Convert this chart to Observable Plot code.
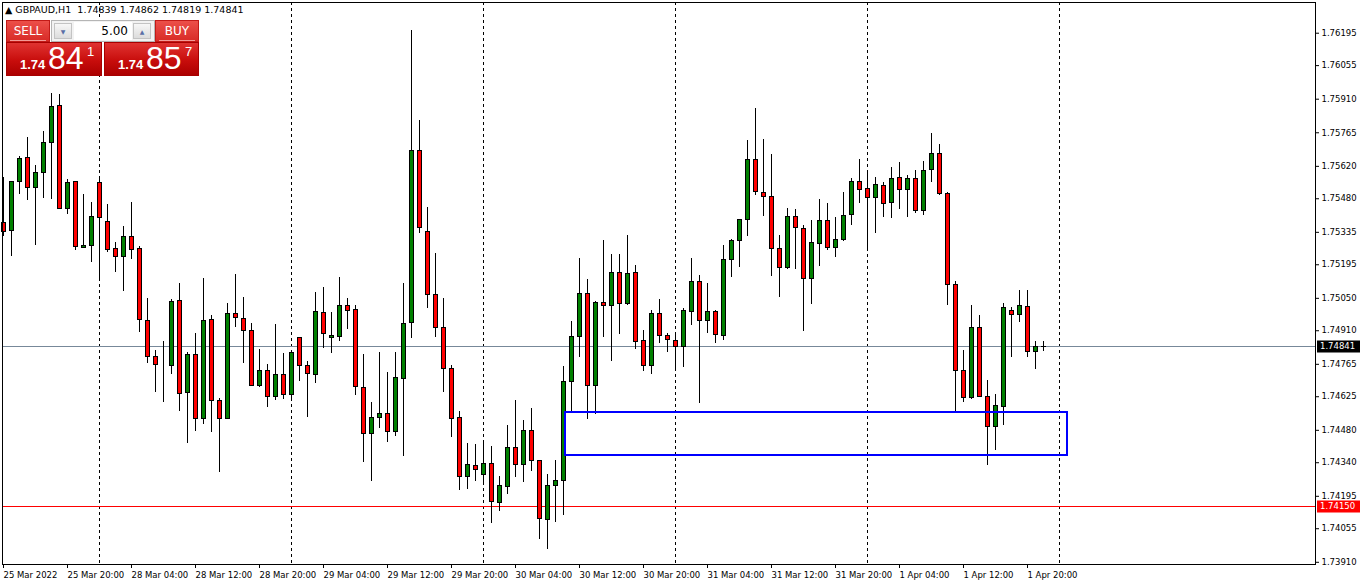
<!DOCTYPE html>
<html>
<head>
<meta charset="utf-8">
<script src="https://cdn.jsdelivr.net/npm/d3@7"></script>
<script src="https://cdn.jsdelivr.net/npm/@observablehq/plot@0.6"></script>
<style>
  body { margin: 0; background: #fff; }
  #wrap { position: relative; width: 1362px; height: 585px; overflow: hidden; font-family: "DejaVu Sans", sans-serif; }
  #title { position: absolute; left: 5px; top: 4px; font-size: 9.5px; color: #000; white-space: pre; }
  .btn { position: absolute; top: 20px; height: 22px; width: 44px; color: #fff; font-size: 12px; line-height: 21px; text-align: center;
         background: linear-gradient(#ec4f49, #d82b27); border: 1px solid #c21a17; box-sizing: border-box; }
  .btn:after { content: ""; position: absolute; left: 3px; right: 3px; bottom: 0; height: 1px; background: #f39a96; }
  #lot { position: absolute; left: 51px; top: 20px; width: 104px; height: 22px; background: #f2f2f2; border: 1px solid #b5b5b5; box-sizing: border-box; }
  .arr { position: absolute; top: 2px; width: 18px; height: 16px; background: linear-gradient(#f7f7f7, #dcdcdc); border: 1px solid #c3c3c3; box-sizing: border-box;
         font-size: 6px; line-height: 15px; text-align: center; color: #5a6fa6; }
  #lotv { position: absolute; left: 22px; top: 1px; width: 58px; height: 18px; background: #fff; font-size: 12px; line-height: 19px; text-align: right; padding-right: 4px; box-sizing: border-box; color: #000; }
  .px { position: absolute; top: 42px; height: 34px; background: linear-gradient(#e03331, #c80d0c 55%, #ac0000); border: 1px solid #a80000; box-sizing: border-box; color: #fff; }
  .px .s { position: absolute; left: 13px; top: 14px; font-family: "Liberation Sans", sans-serif; font-weight: bold; font-size: 13px; }
  .px .b { position: absolute; left: 41px; top: -3px; font-family: "Liberation Sans", sans-serif; font-size: 32px; }
  .px .u { position: absolute; left: 80px; top: 1px; font-family: "Liberation Sans", sans-serif; font-size: 13px; }
</style>
</head>
<body>
<div id="wrap">
  <div id="chart"></div>
  <div id="title"></div>
  <div class="btn" id="sell" style="left:6px">SELL</div>
  <div id="lot"><div class="arr" style="left:2px">&#9660;</div><div id="lotv"></div><div class="arr" style="left:81px">&#9650;</div></div>
  <div class="btn" id="buy" style="left:155px">BUY</div>
  <div class="px" id="sellpx" style="left:6px;width:96px"><span class="s"></span><span class="b"></span><span class="u"></span></div>
  <div class="px" id="buypx" style="left:104px;width:95px"><span class="s"></span><span class="b"></span><span class="u"></span></div>
</div>
<script>
// ---- data (GBPAUD H1, bars from 25 Mar 2022 12:00 to 1 Apr 2022 22:00) ----
const symbol = "GBPAUD,H1";
const lastOHLC = ["1.74839", "1.74862", "1.74819", "1.74841"];
const bidText = ["1.74", "84", "1"];
const askText = ["1.74", "85", "7"];
const lotSize = "5.00";

const opens = [1.75377,1.75340,1.75551,1.75657,1.75527,1.75592,1.75721,1.75881,1.75436,1.75553,
1.75268,1.75277,1.75549,1.75380,1.75264,1.75229,1.75315,1.75264,1.74953,1.74797,
1.74760,1.74758,1.75039,1.74642,1.74806,1.74529,1.74957,1.74607,1.74529,1.74983,
1.74961,1.74909,1.74672,1.74737,1.74624,1.74719,1.74633,1.74879,1.74758,1.74719,
1.74987,1.74879,1.74884,1.75017,1.75000,1.74663,1.74465,1.74534,1.74551,1.74473,
1.74702,1.74944,1.75687,1.75337,1.75065,1.74922,1.74745,1.74534,1.74279,1.74326,
1.74288,1.74335,1.74167,1.74236,1.74404,1.74331,1.74478,1.74348,1.74093,1.74240,
1.74262,1.74689,1.74884,1.75069,1.74672,1.75030,1.75017,1.75160,1.75026,1.75160,
1.74866,1.74758,1.74983,1.74888,1.74866,1.74840,1.74992,1.75121,1.74953,1.74992,
1.74888,1.75216,1.75298,1.75389,1.75648,1.75505,1.75488,1.75264,1.75181,1.75402,
1.75350,1.75134,1.75285,1.75385,1.75268,1.75302,1.75410,1.75553,1.75523,1.75484,
1.75536,1.75462,1.75570,1.75518,1.75566,1.75428,1.75605,1.75674,1.75501,1.75108,
1.74737,1.74620,1.74922,1.74624,1.74495,1.74581,1.74996,1.74979,1.75013,1.74819,
1.74839];

const highs = [1.75572,1.75556,1.75662,1.75743,1.75622,1.75770,1.75934,1.75930,1.75563,1.75556,
1.75498,1.75464,1.75575,1.75454,1.75290,1.75360,1.75464,1.75272,1.75048,1.74823,
1.74862,1.75043,1.75112,1.74814,1.74896,1.75134,1.74978,1.74616,1.75026,1.75151,
1.75053,1.74940,1.74827,1.74763,1.74935,1.74811,1.74823,1.74879,1.74776,1.75074,
1.75095,1.74987,1.75138,1.75048,1.75020,1.74806,1.74599,1.74814,1.74728,1.74814,
1.75112,1.76205,1.75816,1.75441,1.75242,1.75048,1.74758,1.74560,1.74423,1.74417,
1.74434,1.74408,1.74279,1.74499,1.74607,1.74521,1.74573,1.74350,1.74288,1.74348,
1.74754,1.74948,1.75220,1.75130,1.75035,1.75298,1.75238,1.75238,1.75320,1.75190,
1.74909,1.74996,1.75043,1.74896,1.74901,1.75004,1.75220,1.75147,1.75112,1.74996,
1.75277,1.75302,1.75389,1.75730,1.75868,1.75734,1.75670,1.75320,1.75436,1.75432,
1.75363,1.75385,1.75475,1.75458,1.75398,1.75505,1.75566,1.75648,1.75600,1.75570,
1.75549,1.75613,1.75635,1.75579,1.75600,1.75639,1.75762,1.75713,1.75505,1.75121,
1.74823,1.75017,1.74974,1.74694,1.74633,1.75026,1.75009,1.75082,1.75082,1.74862,
1.74862];

const lows = [1.75317,1.75232,1.75499,1.75474,1.75279,1.75482,1.75478,1.75434,1.75413,1.75258,
1.75266,1.75206,1.75125,1.75249,1.75163,1.75081,1.75219,1.74903,1.74769,1.74644,
1.74601,1.74722,1.74562,1.74421,1.74476,1.74503,1.74469,1.74296,1.74525,1.74925,
1.74769,1.74670,1.74663,1.74580,1.74607,1.74611,1.74607,1.74689,1.74534,1.74681,
1.74832,1.74810,1.74862,1.74914,1.74629,1.74342,1.74260,1.74490,1.74426,1.74452,
1.74365,1.74875,1.75328,1.75004,1.74879,1.74642,1.74447,1.74218,1.74223,1.74260,
1.74244,1.74076,1.74128,1.74201,1.74275,1.74253,1.74300,1.74007,1.73964,1.74080,
1.74110,1.74560,1.74793,1.74525,1.74547,1.74879,1.74776,1.74892,1.75017,1.74827,
1.74732,1.74719,1.74853,1.74814,1.74737,1.74750,1.74934,1.74595,1.74896,1.74853,
1.74866,1.75138,1.75181,1.75315,1.75492,1.75402,1.75143,1.75052,1.75173,1.75173,
1.74905,1.75022,1.75186,1.75255,1.75225,1.75294,1.75363,1.75458,1.75255,1.75328,
1.75398,1.75393,1.75432,1.75398,1.75415,1.75406,1.75549,1.75492,1.75017,1.74555,
1.74599,1.74611,1.74620,1.74326,1.74391,1.74499,1.74793,1.74944,1.74793,1.74741,
1.74819];

const closes = [1.75338,1.75554,1.75652,1.75525,1.75592,1.75721,1.75877,1.75436,1.75549,1.75272,
1.75277,1.75402,1.75398,1.75258,1.75229,1.75315,1.75259,1.74957,1.74797,1.74763,
1.74760,1.75035,1.74637,1.74806,1.74529,1.74953,1.74607,1.74529,1.74983,1.74966,
1.74909,1.74672,1.74737,1.74624,1.74719,1.74633,1.74814,1.74758,1.74724,1.74992,
1.74896,1.74888,1.75017,1.74996,1.74668,1.74465,1.74534,1.74551,1.74473,1.74706,
1.74940,1.75687,1.75354,1.75065,1.74922,1.74745,1.74529,1.74279,1.74331,1.74309,
1.74335,1.74171,1.74240,1.74404,1.74331,1.74478,1.74348,1.74098,1.74240,1.74262,
1.74689,1.74884,1.75069,1.74672,1.75030,1.75017,1.75160,1.75026,1.75156,1.74862,
1.74758,1.74983,1.74888,1.74871,1.74840,1.74996,1.75121,1.74953,1.74992,1.74892,
1.75216,1.75298,1.75389,1.75648,1.75510,1.75488,1.75264,1.75181,1.75402,1.75354,
1.75134,1.75290,1.75385,1.75268,1.75302,1.75406,1.75553,1.75518,1.75484,1.75540,
1.75458,1.75566,1.75518,1.75566,1.75428,1.75600,1.75674,1.75501,1.75108,1.74737,
1.74620,1.74922,1.74624,1.74495,1.74586,1.75009,1.74979,1.75017,1.74819,1.74839,
1.74841];

// x-axis labels, every 8 bars starting at bar 0
const xTickBars = [0,8,16,24,32,40,48,56,64,72,80,88,96,104,112,120,128];
const xTickLabels = ["25 Mar 2022","25 Mar 20:00","28 Mar 04:00","28 Mar 12:00","28 Mar 20:00",
  "29 Mar 04:00","29 Mar 12:00","29 Mar 20:00","30 Mar 04:00","30 Mar 12:00","30 Mar 20:00",
  "31 Mar 04:00","31 Mar 12:00","31 Mar 20:00","1 Apr 04:00","1 Apr 12:00","1 Apr 20:00"];
// price axis labels
const yTickValues = [1.76195,1.76055,1.75910,1.75765,1.75620,1.75480,1.75335,1.75195,1.75050,
  1.74910,1.74765,1.74625,1.74480,1.74340,1.74195,1.74055,1.73910];
// day separators (bar index of each midnight)
const daySeparators = [12,36,60,84,108,132];
const bidPrice = 1.74841;
const levelPrice = 1.74150;
const zone = {start: 70.2, end: 133, top: 1.74557, bottom: 1.74371};

// ---- build ----
const bars = opens.map((o, i) => ({i, open: o, high: highs[i], low: lows[i], close: closes[i]}));

const chart = Plot.plot({
  width: 1362,
  height: 585,
  marginLeft: 2,
  marginRight: 47,
  marginTop: 2,
  marginBottom: 21,
  style: {fontFamily: "DejaVu Sans, sans-serif", fontSize: "8.5px", background: "white", color: "black"},
  x: {domain: [-0.125, 164]},
  y: {domain: [1.739005, 1.763276]},
  color: {type: "identity"},
  marks: [
    Plot.ruleX(daySeparators, {stroke: "black", strokeDasharray: "3,3", shapeRendering: "crispEdges"}),
    Plot.ruleY([bidPrice], {stroke: "#778899", shapeRendering: "crispEdges"}),
    Plot.ruleY([levelPrice], {stroke: "#ff0000", shapeRendering: "crispEdges"}),
    Plot.ruleX(bars, {x: "i", y1: "low", y2: "high", stroke: "black", shapeRendering: "crispEdges"}),
    Plot.rect(bars, {
      x1: d => d.i - 0.25, x2: d => d.i + 0.25,
      y1: "open", y2: "close",
      fill: d => d.close >= d.open ? "#008000" : "#ff0000",
      stroke: "black", shapeRendering: "crispEdges"
    }),
    Plot.rect([zone], {x1: "start", x2: "end", y1: "bottom", y2: "top", fill: "none", stroke: "#0000ff", strokeWidth: 2, shapeRendering: "crispEdges"}),
    Plot.frame({stroke: "black", shapeRendering: "crispEdges"}),
    Plot.axisY({anchor: "right", ticks: yTickValues, tickFormat: d => d.toFixed(5), tickSize: 3, tickPadding: 3, label: null}),
    Plot.axisX({anchor: "bottom", ticks: xTickBars, tickFormat: d => xTickLabels[xTickBars.indexOf(d)], tickSize: 4, tickPadding: 3, textAnchor: "start", dx: 0, label: null})
  ]
});
document.getElementById("chart").appendChild(chart);

// price labels on the right axis
const ys = chart.scale("y");
const svg = d3.select(chart);
[[bidPrice, "#000000"], [levelPrice, "#ff0000"]].forEach(([p, col]) => {
  const y = Math.round(ys.apply(p)) + 0.5;
  svg.append("rect").attr("x", 1317).attr("y", y - 6).attr("width", 43).attr("height", 12).attr("fill", col);
  svg.append("text").attr("x", 1320).attr("y", y).attr("dy", "0.35em").attr("fill", "#fff")
    .attr("text-anchor", "start")
    .attr("font-size", "8.5px").attr("font-family", "DejaVu Sans, sans-serif").text(p.toFixed(5));
});

// header texts
document.getElementById("title").textContent = "\u25B2 " + symbol + "  " + lastOHLC.join(" ");
document.getElementById("lotv").textContent = lotSize;
const fill = (id, t) => { const s = document.querySelectorAll("#" + id + " span"); s[0].textContent = t[0]; s[1].textContent = t[1]; s[2].textContent = t[2]; };
fill("sellpx", bidText);
fill("buypx", askText);
</script>
</body>
</html>
